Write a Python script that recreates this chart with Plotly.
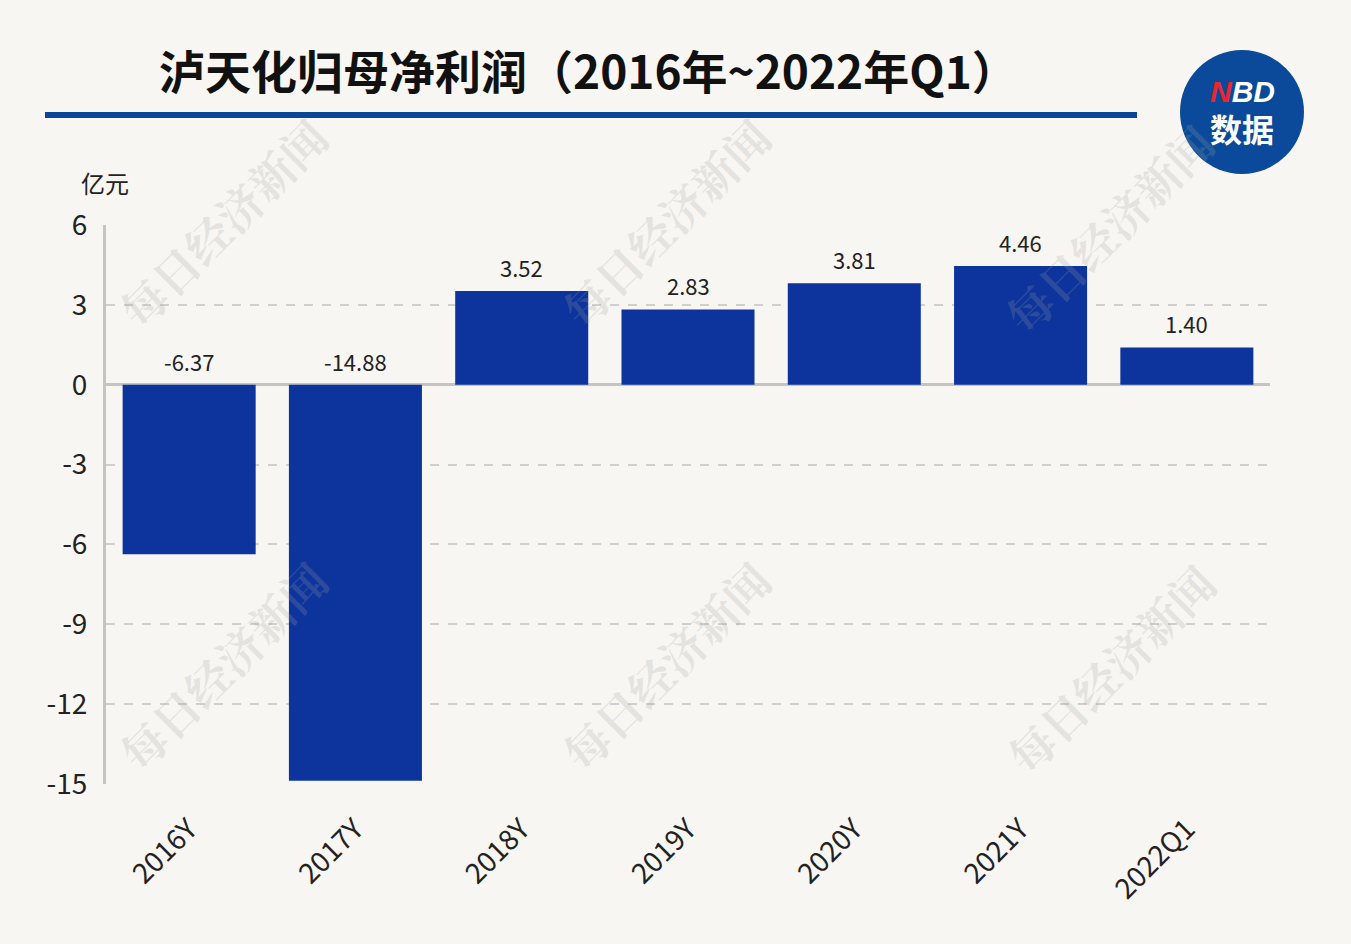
import plotly.graph_objects as go

categories = ["2016Y", "2017Y", "2018Y", "2019Y", "2020Y", "2021Y", "2022Q1"]
values = [-6.37, -14.88, 3.52, 2.83, 3.81, 4.46, 1.40]
y_ticks = [6, 3, 0, -3, -6, -9, -12, -15]

title = "泸天化归母净利润（2016年~2022年Q1）"
unit = "亿元"
watermark = "每日经济新闻"

FONT = "Noto Sans CJK SC"
BG = "#f8f6f2"
BAR = "#0c349c"

W, H = 1351, 944
ML, MR, MT, MB = 106, 81, 225, 160
pw, ph = W - ML - MR, H - MT - MB


def px(x):
    return (x - ML) / pw


def py(y):
    return 1 + (MT - y) / ph


fig = go.Figure()
fig.add_trace(go.Bar(
    x=categories, y=values,
    marker=dict(color=BAR, line=dict(width=0)),
    hoverinfo="skip",
))

# watermarks
for (wx, wy) in [(222, 222), (665, 222), (1108, 228), (222, 665), (665, 665), (1110, 668)]:
    fig.add_annotation(
        x=px(wx), y=py(wy), xref="paper", yref="paper", text=f"<b>{watermark}</b>", showarrow=False,
        xanchor="center", yanchor="middle", textangle=-45,
        font=dict(family="Noto Serif CJK SC, " + FONT, size=45, color="rgba(160,160,160,0.22)"),
    )

# value labels (negatives shown above zero line)
for c, v in zip(categories, values):
    fig.add_annotation(
        x=c, y=max(v, 0), xref="x", yref="y",
        text=f"{v:.2f}", showarrow=False, yanchor="bottom", yshift=6,
        font=dict(family=FONT, size=22, color="#222222"),
    )

# title
fig.add_annotation(
    x=px(157), y=py(69), xref="paper", yref="paper", text=f"<b>{title}</b>", showarrow=False,
    xanchor="left", yanchor="middle", font=dict(family=FONT, size=46, color="#111111"),
)
# unit
fig.add_annotation(
    x=px(79), y=py(183), xref="paper", yref="paper", text=unit, showarrow=False,
    xanchor="left", yanchor="middle", font=dict(family=FONT, size=24, color="#222222"),
)

# title underline
fig.add_shape(type="line", xref="paper", yref="paper",
              x0=px(45), x1=px(1137), y0=py(115), y1=py(115),
              line=dict(color="#0b4596", width=6))

# NBD logo
cx, cy, r = 1242, 112, 62
fig.add_shape(type="circle", xref="paper", yref="paper",
              x0=px(cx - r), x1=px(cx + r), y0=py(cy + r), y1=py(cy - r),
              fillcolor="#0b4a9b", line=dict(color="#0b4a9b", width=0))
fig.add_annotation(xref="paper", yref="paper", x=px(cx), y=py(92),
                   xanchor="center", yanchor="middle",
                   text="<b><i><span style='color:#e8272d'>N</span>BD</i></b>", showarrow=False,
                   font=dict(family="Liberation Sans", size=30, color="white"))
fig.add_annotation(xref="paper", yref="paper", x=px(cx), y=py(128),
                   xanchor="center", yanchor="middle",
                   text="<b>数据</b>", showarrow=False,
                   font=dict(family=FONT, size=32, color="white"))

fig.update_layout(
    width=W, height=H,
    paper_bgcolor=BG, plot_bgcolor=BG,
    margin=dict(l=ML, r=MR, t=MT, b=MB),
    bargap=0.2,
    showlegend=False,
    xaxis=dict(
        tickangle=-45, tickfont=dict(family=FONT, size=28, color="#222222"),
        showgrid=False, showline=False, ticks="", zeroline=False,
        ticklabelstandoff=22,
    ),
    yaxis=dict(
        range=[-15, 6], tickvals=y_ticks, ticktext=[str(t) for t in y_ticks],
        tickfont=dict(family=FONT, size=28, color="#222222"),
        showgrid=True, gridcolor="#cfcfcf", griddash="dash", gridwidth=1.5,
        showline=True, linecolor="#c4c4c4", linewidth=3,
        zeroline=True, zerolinecolor="#c4c4c4", zerolinewidth=3,
        ticks="", ticklabelstandoff=10,
    ),
)

fig.write_html("out.html", config={"displayModeBar": False},
               post_script="document.body.style.margin='0';document.body.style.background='#f8f6f2';")
